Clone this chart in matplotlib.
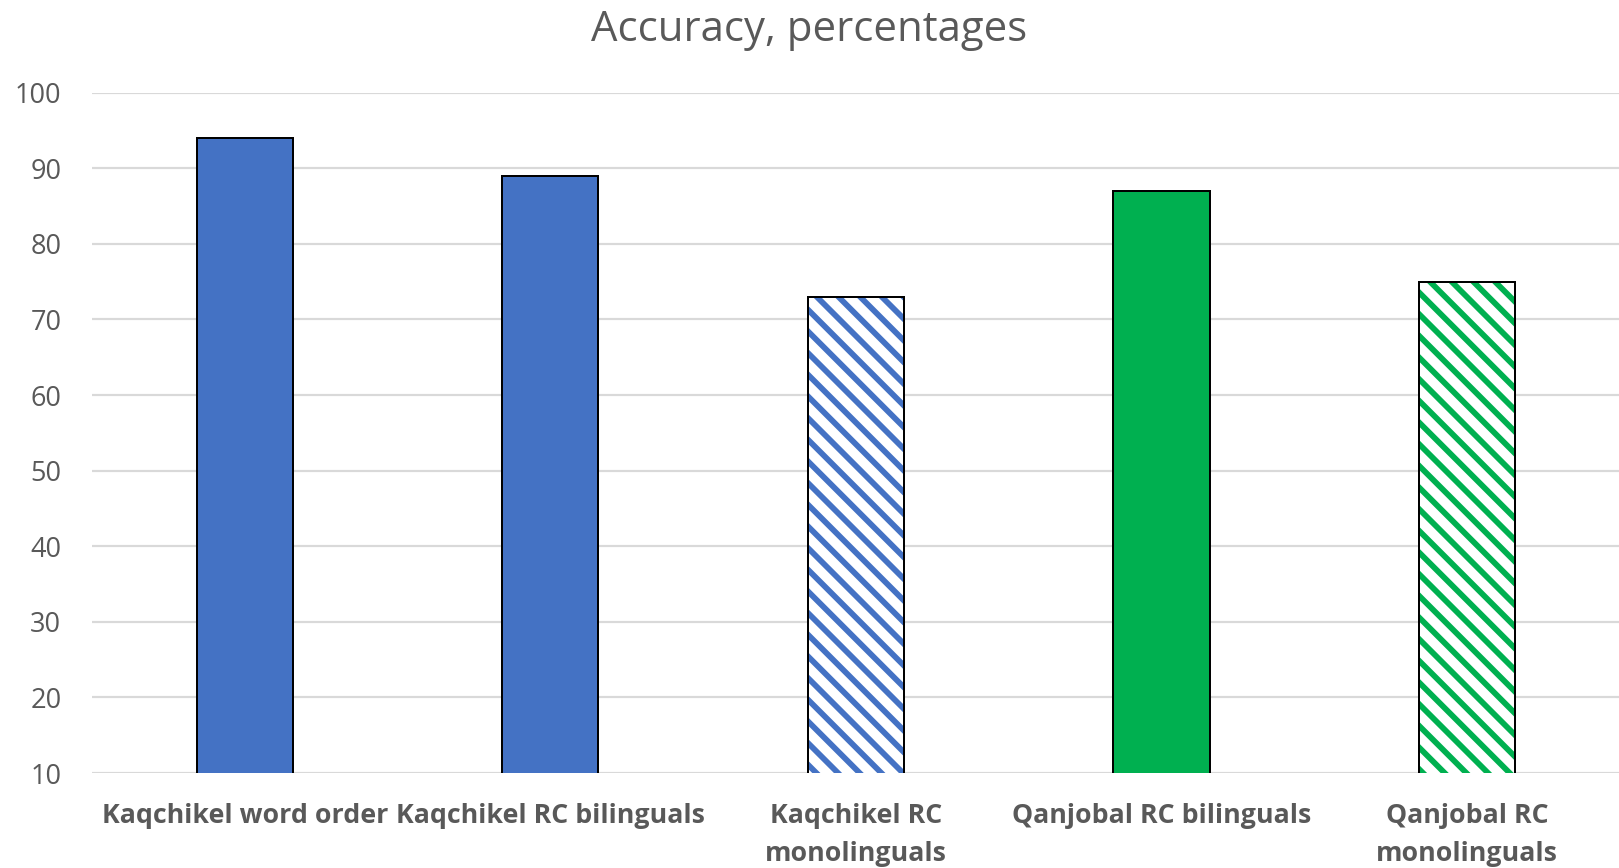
import matplotlib.pyplot as plt
import numpy as np

categories = ["Kaqchikel word order", "Kaqchikel RC bilinguals",
              "Kaqchikel RC\nmonolinguals", "Qanjobal RC bilinguals",
              "Qanjobal RC\nmonolinguals"]
accuracy = [94, 89, 73, 87, 75]
colors = ["#4472C4", "#4472C4", "#4472C4", "#00B050", "#00B050"]
hatched = [False, False, True, False, True]
yticks = [10, 20, 30, 40, 50, 60, 70, 80, 90, 100]

grey = "#595959"
plt.rcParams['font.family'] = ['Open Sans', 'DejaVu Sans']
plt.rcParams['hatch.linewidth'] = 3.2

fig = plt.figure(figsize=(1619 / 130, 868 / 130), dpi=130)
ax = fig.add_axes([0.0568, 0.1094, 0.9438, 0.7838])

x = np.arange(len(categories))
width = 0.315
for i in range(len(categories)):
    if hatched[i]:
        # hatch in the bar colour, then a black outline on top
        ax.bar(x[i], accuracy[i], width, bottom=0, color="white",
               edgecolor=colors[i], hatch="\\\\", linewidth=0, zorder=2)
        ax.bar(x[i], accuracy[i], width, bottom=0, color="none",
               edgecolor="black", linewidth=1.1, zorder=3)
    else:
        ax.bar(x[i], accuracy[i], width, bottom=0, color=colors[i],
               edgecolor="black", linewidth=1.1, zorder=3)

ax.set_ylim(10, 100)
ax.set_xlim(-0.5, len(categories) - 0.5)
ax.set_yticks(yticks)
ax.yaxis.grid(True, color="#D9D9D9", linewidth=1.2, zorder=0)
ax.set_axisbelow(True)
for s in ax.spines.values():
    s.set_visible(False)

ax.set_xticks(x)
ax.set_xticklabels(categories, fontweight="bold", fontsize=14.8,
                   color=grey, linespacing=1.6)
ax.tick_params(axis="x", length=0, pad=16.5)
ax.tick_params(axis="y", length=0, pad=17, labelsize=15, labelcolor=grey)

fig.suptitle("Accuracy, percentages", fontsize=23.2, color=grey, y=0.99,
             va="top")

fig.savefig("out.png", dpi=130)
